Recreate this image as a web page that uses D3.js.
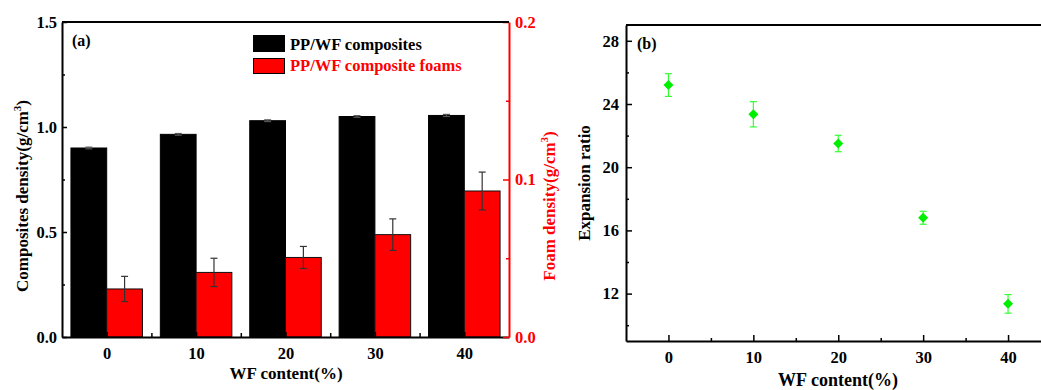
<!DOCTYPE html>
<meta charset="utf-8">
<script src="https://d3js.org/d3.v7.min.js"></script>
<style>
  body { margin: 0; background: #fff; }
  text { font-family: "Liberation Serif", "Times New Roman", serif; font-weight: bold; }
</style>
<div id="viz"></div>
<script>

var wf = [0, 10, 20, 30, 40];
var compDensity = [0.90, 0.965, 1.03, 1.05, 1.055];
var compErr = [0.004, 0.004, 0.004, 0.004, 0.005];
var foamDensity = [0.0305, 0.041, 0.0505, 0.065, 0.0927];
var foamErr = [0.008, 0.009, 0.007, 0.010, 0.012];
var expRatio = [25.2, 23.35, 21.5, 16.8, 11.35];
var expErr = [0.72, 0.8, 0.52, 0.41, 0.59];

var svg = d3.select("#viz")
  .append("svg")
    .attr("width", 1041)
    .attr("height", 390);

svg.append("rect").attr("width", 1041).attr("height", 390).style("fill", "#fff");

// ---------- panel (a) ----------
var a = {left: 62, right: 509, top: 22, bottom: 337};

var x = d3.scaleLinear().domain([-5, 45]).range([a.left, a.right]);
var yL = d3.scaleLinear().domain([0, 1.5]).range([a.bottom, a.top]);
var yR = d3.scaleLinear().domain([0, 0.2]).range([a.bottom, a.top]);

var pa = svg.append("g");

// black bars
pa.selectAll(".cbar")
  .data(wf)
  .enter()
  .append("rect")
    .attr("x", function (d) { return x(d - 4); })
    .attr("y", function (d, i) { return yL(compDensity[i]); })
    .attr("width", function (d) { return x(d) - x(d - 4); })
    .attr("height", function (d, i) { return a.bottom - yL(compDensity[i]); })
    .style("fill", "#000")
    .style("stroke", "#000");

// red bars
pa.selectAll(".fbar")
  .data(wf)
  .enter()
  .append("rect")
    .attr("x", function (d) { return x(d); })
    .attr("y", function (d, i) { return yR(foamDensity[i]); })
    .attr("width", function (d) { return x(d + 4) - x(d); })
    .attr("height", function (d, i) { return a.bottom - yR(foamDensity[i]); })
    .style("fill", "#ff0000")
    .style("stroke", "#111")
    .style("stroke-width", 1);

function errBar(g, cx, y1, y2, color, cap) {
  g.append("line").attr("x1", cx).attr("x2", cx).attr("y1", y1).attr("y2", y2)
    .style("stroke", color).style("stroke-width", 1.2);
  g.append("line").attr("x1", cx - cap).attr("x2", cx + cap).attr("y1", y1).attr("y2", y1)
    .style("stroke", color).style("stroke-width", 1.2);
  g.append("line").attr("x1", cx - cap).attr("x2", cx + cap).attr("y1", y2).attr("y2", y2)
    .style("stroke", color).style("stroke-width", 1.2);
}

wf.forEach(function (d, i) {
  errBar(pa, x(d - 2), yL(compDensity[i] + compErr[i]), yL(compDensity[i] - compErr[i]), "#555", 3.5);
  errBar(pa, x(d + 2), yR(foamDensity[i] + foamErr[i]), yR(foamDensity[i] - foamErr[i]), "#333", 3.5);
});

// axes
function styleAxis(g, color) {
  g.select(".domain").style("stroke", color).style("stroke-width", 2);
  g.selectAll(".tick line").style("stroke", color).style("stroke-width", 1.5);
  g.selectAll(".tick text").style("fill", color).style("font-size", "16.5px")
    .style("font-family", "Liberation Serif").style("font-weight", "bold");
}

var gxa = pa.append("g").attr("transform", "translate(0," + a.bottom + ")")
  .call(d3.axisBottom(x).tickValues(wf).tickSize(-5).tickSizeOuter(0).tickPadding(10));
styleAxis(gxa, "#000");
pa.append("g").attr("transform", "translate(0," + a.bottom + ")")
  .call(d3.axisBottom(x).tickValues([5, 15, 25, 35]).tickSize(-4).tickSizeOuter(0).tickFormat(""))
  .call(function (g) { g.select(".domain").remove(); g.selectAll("line").style("stroke-width", 1.5); });

var gyl = pa.append("g").attr("transform", "translate(" + a.left + ",0)")
  .call(d3.axisLeft(yL).tickValues([0, 0.5, 1.0, 1.5]).tickSize(-5).tickSizeOuter(0).tickPadding(5)
    .tickFormat(d3.format(".1f")));
styleAxis(gyl, "#000");
pa.append("g").attr("transform", "translate(" + a.left + ",0)")
  .call(d3.axisLeft(yL).tickValues([0.25, 0.75, 1.25]).tickSize(-3).tickFormat(""))
  .call(function (g) { g.select(".domain").remove(); g.selectAll("line").style("stroke-width", 1.5); });

var gyr = pa.append("g").attr("transform", "translate(" + a.right + ",0)")
  .call(d3.axisRight(yR).tickValues([0, 0.1, 0.2]).tickSize(-6).tickSizeOuter(0).tickPadding(6)
    .tickFormat(d3.format(".1f")));
styleAxis(gyr, "#ff0000");
pa.append("g").attr("transform", "translate(" + a.right + ",0)")
  .call(d3.axisRight(yR).tickValues([0.05, 0.15]).tickSize(-3).tickFormat(""))
  .call(function (g) { g.select(".domain").remove(); g.selectAll("line").style("stroke", "#ff0000").style("stroke-width", 1.5); });

pa.append("line").attr("x1", a.left).attr("x2", a.right).attr("y1", a.top).attr("y2", a.top)
  .style("stroke", "#000").style("stroke-width", 2);

pa.append("text").attr("x", 72).attr("y", 46).style("font-size", "16px").text("(a)");

// legend
pa.append("rect").attr("x", 253).attr("y", 35).attr("width", 32).attr("height", 17)
  .style("fill", "#000");
pa.append("rect").attr("x", 253.5).attr("y", 58.5).attr("width", 31).attr("height", 15)
  .style("fill", "#ff0000").style("stroke", "#000").style("stroke-width", 1);
pa.append("text").attr("x", 290).attr("y", 50).style("font-size", "16.5px").text("PP/WF composites");
pa.append("text").attr("x", 290).attr("y", 71).style("font-size", "16.5px").style("fill", "#ff0000")
  .text("PP/WF composite foams");

// axis titles
var tl = pa.append("text").attr("transform", "translate(28,196) rotate(-90)")
  .attr("text-anchor", "middle").style("font-size", "17px");
tl.append("tspan").text("Composites density(g/cm");
tl.append("tspan").attr("dy", -7).style("font-size", "11px").text("3");
tl.append("tspan").attr("dy", 7).text(")");

var tr = pa.append("text").attr("transform", "translate(555,206) rotate(-90)")
  .attr("text-anchor", "middle").style("font-size", "17px").style("fill", "#ff0000");
tr.append("tspan").text("Foam density(g/cm");
tr.append("tspan").attr("dy", -7).style("font-size", "11px").text("3");
tr.append("tspan").attr("dy", 7).text(")");

pa.append("text").attr("x", 286).attr("y", 379).attr("text-anchor", "middle")
  .style("font-size", "17px").text("WF content(%)");

// ---------- panel (b) ----------
var b = {left: 626, top: 25, bottom: 341};
var xb = d3.scaleLinear().domain([-5, 45]).range([b.left, 1050.5]);
var yb = d3.scaleLinear().domain([9, 29]).range([b.bottom, b.top]);

var pb = svg.append("g");

var gxb = pb.append("g").attr("transform", "translate(0," + b.bottom + ")")
  .call(d3.axisBottom(xb).tickValues(wf).tickSize(-6).tickSizeOuter(0).tickPadding(10));
styleAxis(gxb, "#000");
pb.append("g").attr("transform", "translate(0," + b.bottom + ")")
  .call(d3.axisBottom(xb).tickValues([5, 15, 25, 35]).tickSize(-3).tickFormat(""))
  .call(function (g) { g.select(".domain").remove(); g.selectAll("line").style("stroke-width", 1.5); });

var gyb = pb.append("g").attr("transform", "translate(" + b.left + ",0)")
  .call(d3.axisLeft(yb).tickValues([12, 16, 20, 24, 28]).tickSize(-6).tickSizeOuter(0).tickPadding(7));
styleAxis(gyb, "#000");
pb.append("g").attr("transform", "translate(" + b.left + ",0)")
  .call(d3.axisLeft(yb).tickValues([10, 14, 18, 22, 26]).tickSize(-3).tickFormat(""))
  .call(function (g) { g.select(".domain").remove(); g.selectAll("line").style("stroke-width", 1.5); });

pb.append("line").attr("x1", b.left).attr("x2", 1041).attr("y1", b.top).attr("y2", b.top)
  .style("stroke", "#000").style("stroke-width", 2);

wf.forEach(function (d, i) {
  errBar(pb, xb(d), yb(expRatio[i] + expErr[i]), yb(expRatio[i] - expErr[i]), "#33ff33", 3.5);
});

// square-ish diamond marker
var diamond = {
  draw: function (ctx, size) {
    var r = Math.sqrt(size / 2);
    ctx.moveTo(0, -r); ctx.lineTo(r, 0); ctx.lineTo(0, r); ctx.lineTo(-r, 0); ctx.closePath();
  }
};

pb.selectAll(".pt")
  .data(wf)
  .enter()
  .append("path")
    .attr("d", d3.symbol().type(diamond).size(50))
    .attr("transform", function (d, i) { return "translate(" + xb(d) + "," + yb(expRatio[i]) + ")"; })
    .style("fill", "#00ee00");

pb.append("text").attr("x", 637).attr("y", 49).style("font-size", "16px").text("(b)");

pb.append("text").attr("transform", "translate(590,183) rotate(-90)")
  .attr("text-anchor", "middle").style("font-size", "17px").text("Expansion ratio");

pb.append("text").attr("x", 838).attr("y", 386).attr("text-anchor", "middle")
  .style("font-size", "18px").text("WF content(%)");

</script>
